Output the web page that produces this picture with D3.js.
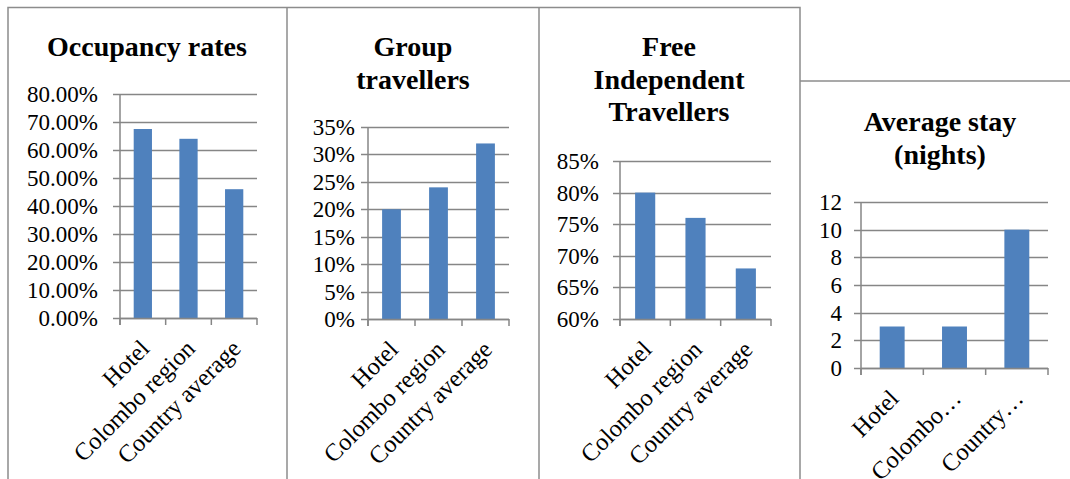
<!DOCTYPE html>
<html>
<head>
<meta charset="utf-8">
<script src="https://cdn.jsdelivr.net/npm/d3@7"></script>
<style>
    body { margin: 0; background: #fff; }
</style>
</head>
<body>
<div id="chart"></div>
<script>
        // Data
        const categories = ["Hotel", "Colombo region", "Country average"];
        const shortCategories = ["Hotel", "Colombo…", "Country…"];

        const occupancyRates = [0.675, 0.64, 0.46];
        const groupTravellers = [0.20, 0.24, 0.32];
        const freeIndependent = [0.80, 0.76, 0.68];
        const averageStay = [3, 3, 10];

        const occupancyTicks = [0, 0.1, 0.2, 0.3, 0.4, 0.5, 0.6, 0.7, 0.8];
        const groupTicks = [0, 0.05, 0.10, 0.15, 0.20, 0.25, 0.30, 0.35];
        const fitTicks = [0.60, 0.65, 0.70, 0.75, 0.80, 0.85];
        const stayTicks = [0, 2, 4, 6, 8, 10, 12];

        // Layout of the four small charts
        const width = 1070;
        const height = 479;
        const barColor = "#4f81bd";
        const gridColor = "#868686";
        const borderColor = "#8c8c8c";
        const fontFamily = "'Liberation Serif', 'Times New Roman', serif";

        const panels = [
            { title: ["Occupancy rates"], values: occupancyRates, ticks: occupancyTicks, fmt: d3.format(".2%"),
              labels: categories, left: 120, right: 257, top: 94, bottom: 318, labelEnd: 98, titleX: 147, titleY: 56 },
            { title: ["Group", "travellers"], values: groupTravellers, ticks: groupTicks, fmt: d3.format(".0%"),
              labels: categories, left: 368, right: 509, top: 127, bottom: 319, labelEnd: 355, titleX: 413, titleY: 56 },
            { title: ["Free", "Independent", "Travellers"], values: freeIndependent, ticks: fitTicks, fmt: d3.format(".0%"),
              labels: categories, left: 620, right: 771, top: 161, bottom: 319, labelEnd: 599, titleX: 669, titleY: 56 },
            { title: ["Average stay", "(nights)"], values: averageStay, ticks: stayTicks, fmt: d3.format("d"),
              labels: shortCategories, left: 861, right: 1048, top: 202, bottom: 368, labelEnd: 842, titleX: 940, titleY: 131 }
        ];

        const svg = d3.select("#chart")
            .append("svg")
            .attr("width", width)
            .attr("height", height)
            .attr("font-family", fontFamily);

        // Frame lines around the panels
        const frame = svg.append("g")
            .attr("stroke", borderColor)
            .attr("stroke-width", 1.5)
            .attr("fill", "none");
        frame.append("path").attr("d", "M8,479 V7.5 H800 V479");
        frame.append("path").attr("d", "M287,7.5 V479");
        frame.append("path").attr("d", "M539,7.5 V479");
        frame.append("path").attr("d", "M800,81 H1070");

        panels.forEach(p => {
            const g = svg.append("g");

            const y = d3.scaleLinear()
                .domain([p.ticks[0], p.ticks[p.ticks.length - 1]])
                .range([p.bottom, p.top]);

            const x = d3.scaleBand()
                .domain(p.labels)
                .range([p.left, p.right])
                .paddingInner(0.6)
                .paddingOuter(0.3);

            // Title
            g.append("text")
                .attr("x", p.titleX)
                .attr("y", p.titleY)
                .attr("text-anchor", "middle")
                .attr("font-size", "28px")
                .attr("font-weight", "bold")
                .selectAll("tspan")
                .data(p.title)
                .enter()
                .append("tspan")
                .attr("x", p.titleX)
                .attr("dy", (d, i) => i === 0 ? 0 : 32.5)
                .text(d => d);

            // Gridlines + y ticks
            g.append("g")
                .selectAll("line")
                .data(p.ticks)
                .enter()
                .append("line")
                .attr("x1", p.left - 7)
                .attr("x2", p.right)
                .attr("y1", d => Math.round(y(d)) + 0.5)
                .attr("y2", d => Math.round(y(d)) + 0.5)
                .attr("stroke", gridColor)
                .attr("stroke-width", 1.5);

            // Y labels
            g.append("g")
                .selectAll("text")
                .data(p.ticks)
                .enter()
                .append("text")
                .attr("x", p.labelEnd)
                .attr("y", d => y(d))
                .attr("dy", "0.35em")
                .attr("text-anchor", "end")
                .attr("font-size", "23px")
                .attr("fill", "#000")
                .text(d => p.fmt(d));

            // Bars
            g.append("g")
                .selectAll("rect")
                .data(p.values)
                .enter()
                .append("rect")
                .attr("x", (d, i) => x(p.labels[i]))
                .attr("width", x.bandwidth())
                .attr("y", d => y(d))
                .attr("height", d => p.bottom - y(d))
                .attr("fill", barColor);

            // Axes lines
            g.append("line")
                .attr("x1", p.left).attr("x2", p.left)
                .attr("y1", p.top).attr("y2", p.bottom + 7)
                .attr("stroke", gridColor).attr("stroke-width", 1.5);
            g.append("line")
                .attr("x1", p.left).attr("x2", p.right)
                .attr("y1", p.bottom + 0.5).attr("y2", p.bottom + 0.5)
                .attr("stroke", gridColor).attr("stroke-width", 1.5);

            // Category boundary ticks
            const bounds = d3.range(p.labels.length + 1).map(i => p.left + (p.right - p.left) * i / p.labels.length);
            g.append("g")
                .selectAll("line")
                .data(bounds)
                .enter()
                .append("line")
                .attr("x1", d => d).attr("x2", d => d)
                .attr("y1", p.bottom).attr("y2", p.bottom + 7)
                .attr("stroke", gridColor).attr("stroke-width", 1.5);

            // Rotated category labels
            g.append("g")
                .selectAll("text")
                .data(p.labels)
                .enter()
                .append("text")
                .attr("transform", d => `translate(${x(d) + x.bandwidth() / 2 + 8},${p.bottom + 32}) rotate(-45)`)
                .attr("text-anchor", "end")
                .attr("font-size", "24.5px")
                .attr("fill", "#000")
                .text(d => d);
        });
</script>
</body>
</html>
